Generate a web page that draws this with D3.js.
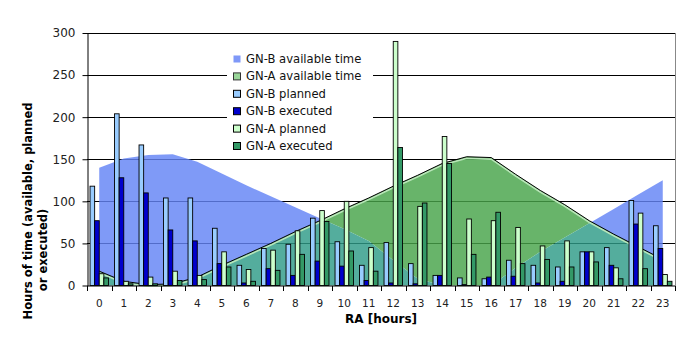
<!DOCTYPE html>
<html>
<head>
<meta charset="utf-8">
<script src="https://cdn.jsdelivr.net/npm/d3@7/dist/d3.min.js"></script>
<style>
  body { margin: 0; background: #fff; }
  text { font-family: "DejaVu Sans", Verdana, sans-serif; }
</style>
</head>
<body>
<svg id="chart" width="699" height="358"></svg>
<script>
// RA hours on the x axis
const hours = ['0','1','2','3','4','5','6','7','8','9','10','11','12','13','14','15','16','17','18','19','20','21','22','23'];

// available time (areas)
const gnbAvailable = [140,151,155,156,147,133,119,106,93,80,67,53,30,8,0,0,0,21,40,57,74,91,108,125];
const gnaAvailable = [17,5,1,2,10,24,37,50,64,77,91,104,118,131,145,153,152,132,113,96,77,61,46,31];

// planned / executed (bars)
const gnbPlanned  = [118,204,167,104,104,68,24,44,49,80,52,24,51,26,12,9,8,30,24,22,40,45,101,71];
const gnbExecuted = [77,128,110,66,53,26,3,20,12,29,23,6,3,2,12,1,10,11,3,5,40,24,73,44];
const gnaPlanned  = [14,5,10,17,12,40,19,42,65,89,100,45,290,94,177,79,77,69,47,53,40,21,86,13];
const gnaExecuted = [9,2,2,6,7,22,5,18,37,76,41,17,164,98,145,37,87,26,31,22,28,8,20,5];

const yTicks = [0,50,100,150,200,250,300];

const barSeries = [
  { key: 'GN-B planned', values: gnbPlanned, color: '#99ccff' },
  { key: 'GN-B executed', values: gnbExecuted, color: '#0000cc' },
  { key: 'GN-A planned', values: gnaPlanned, color: '#ccffcc' },
  { key: 'GN-A executed', values: gnaExecuted, color: '#339966' }
];

const svg = d3.select('#chart');
const plotLeft = 87, plotRight = 675, plotTop = 33, plotBottom = 285.5;

const x = d3.scaleBand().domain(hours).range([plotLeft, plotRight]);
const xb = d3.scaleBand()
  .domain(barSeries.map((s) => s.key))
  .range([0, x.bandwidth()])
  .paddingOuter(0.66);
const y = d3.scaleLinear().domain([0, 300]).range([plotBottom, plotTop]);
const cx = (h) => x(h) + x.bandwidth() / 2;

// gridlines
svg.append('g')
  .selectAll('line')
  .data(yTicks.slice(1))
  .enter()
  .append('line')
  .attr('x1', plotLeft).attr('x2', plotRight)
  .attr('y1', (d) => Math.round(y(d)) + 0.5)
  .attr('y2', (d) => Math.round(y(d)) + 0.5)
  .style('stroke', '#000');

// areas
const area = d3.area()
  .x((d, i) => cx(hours[i]))
  .y0(y(0))
  .y1((d) => y(d));
const blueD = area(gnbAvailable);
const greenD = area(gnaAvailable);

const defs = svg.append('defs');
const notGreen = defs.append('mask').attr('id', 'notGreen');
notGreen.append('rect').attr('width', 699).attr('height', 358).style('fill', '#fff');
notGreen.append('path').attr('d', greenD).style('fill', '#000');
const notBlue = defs.append('mask').attr('id', 'notBlue');
notBlue.append('rect').attr('width', 699).attr('height', 358).style('fill', '#fff');
notBlue.append('path').attr('d', blueD).style('fill', '#000');
defs.append('clipPath').attr('id', 'inGreen').append('path').attr('d', greenD);

const areas = svg.append('g').style('opacity', 0.82);
areas.append('path').attr('d', blueD).attr('mask', 'url(#notGreen)').style('fill', '#6484f6');
areas.append('path').attr('d', greenD).attr('mask', 'url(#notBlue)').style('fill', '#48a44a');
areas.append('path').attr('d', blueD).attr('clip-path', 'url(#inGreen)').style('fill', '#2f9c88');

// GN-A available outline
const topLine = d3.line().x((d, i) => cx(hours[i])).y((d) => y(d));
svg.append('path')
  .attr('d', topLine(gnaAvailable))
  .attr('transform', 'translate(0,1.6)')
  .style('fill', 'none').style('stroke', '#b8e6b8').style('stroke-width', 1.6);
svg.append('path')
  .attr('d', topLine(gnaAvailable))
  .style('fill', 'none').style('stroke', '#000').style('stroke-width', 1);

// bars
const groups = svg.append('g')
  .selectAll('g')
  .data(barSeries)
  .enter()
  .append('g')
  .style('fill', (s) => s.color);

groups.selectAll('rect')
  .data((s) => s.values.map((v, i) => ({ key: s.key, h: hours[i], v })))
  .enter()
  .append('rect')
  .attr('x', (d) => x(d.h) + xb(d.key))
  .attr('y', (d) => y(d.v))
  .attr('width', xb.bandwidth())
  .attr('height', (d) => y(0) - y(d.v))
  .style('stroke', '#000')
  .style('stroke-width', 0.9);

// legend
const legendItems = [
  { key: 'GN-B available time', color: '#7f98f8', stroke: 'none' },
  { key: 'GN-A available time', color: '#99d699', stroke: '#333' },
  ...barSeries.map((s) => ({ key: s.key, color: s.color, stroke: '#000' }))
];
const legend = svg.append('g');
legend.append('rect')
  .attr('x', 227).attr('y', 36).attr('width', 146).attr('height', 121)
  .style('fill', '#fff');
const rows = legend.selectAll('g.row')
  .data(legendItems)
  .enter()
  .append('g')
  .attr('transform', (d, i) => `translate(233, ${59 + i * 17.4})`);
rows.append('rect')
  .attr('x', 0.5).attr('y', -3.5).attr('width', 7).attr('height', 7)
  .style('fill', (d) => d.color)
  .style('stroke', (d) => d.stroke);
rows.append('text')
  .attr('x', 13).attr('y', 4)
  .style('font-size', '11.6px')
  .style('fill', '#111')
  .text((d) => d.key);

// y axis
svg.append('g')
  .attr('transform', `translate(${plotLeft + 0.5}, 0)`)
  .call(d3.axisLeft(y).tickValues(yTicks).tickSize(5).tickSizeOuter(0).tickPadding(7))
  .call((g) => g.selectAll('text').style('font-size', '12px').style('fill', '#222').style('font-family', '"DejaVu Sans", Verdana, sans-serif'))
  .call((g) => g.selectAll('line,path').style('stroke', '#000'));

// x axis
svg.append('line')
  .attr('x1', plotLeft).attr('x2', plotRight + 1)
  .attr('y1', 286).attr('y2', 286)
  .style('stroke', '#000');
svg.append('g')
  .selectAll('line')
  .data(d3.range(hours.length + 1))
  .enter()
  .append('line')
  .attr('x1', (i) => Math.round(plotLeft + i * x.step()) + 0.5)
  .attr('x2', (i) => Math.round(plotLeft + i * x.step()) + 0.5)
  .attr('y1', 286).attr('y2', 291)
  .style('stroke', '#000');
svg.append('g')
  .selectAll('text')
  .data(hours)
  .enter()
  .append('text')
  .attr('x', (h) => cx(h))
  .attr('y', 307)
  .attr('text-anchor', 'middle')
  .style('font-size', '10.5px')
  .style('fill', '#222')
  .text((h) => h);

// right border
svg.append('line')
  .attr('x1', plotRight + 0.5).attr('x2', plotRight + 0.5)
  .attr('y1', plotTop).attr('y2', 286)
  .style('stroke', '#888');

// titles
svg.append('text')
  .attr('x', 381).attr('y', 323)
  .attr('text-anchor', 'middle')
  .style('font-size', '12px').style('font-weight', 'bold')
  .text('RA [hours]');
svg.append('text')
  .attr('transform', 'translate(32, 211) rotate(-90)')
  .attr('text-anchor', 'middle')
  .style('font-size', '11.5px').style('font-weight', 'bold')
  .text('Hours of time (available, planned');
svg.append('text')
  .attr('transform', 'translate(47, 250) rotate(-90)')
  .attr('text-anchor', 'middle')
  .style('font-size', '11.5px').style('font-weight', 'bold')
  .text('or executed)');
</script>
</body>
</html>
